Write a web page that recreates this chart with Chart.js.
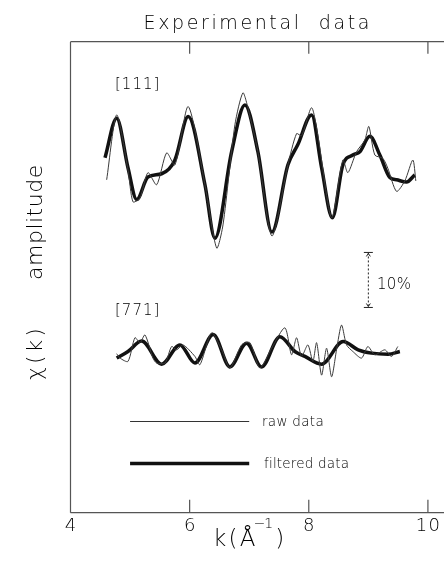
<!DOCTYPE html>
<html>
<head>
<meta charset="utf-8">
<script src="https://cdn.jsdelivr.net/npm/chart.js@4.4.0/dist/chart.umd.min.js"></script>
<style>
  html, body { margin: 0; padding: 0; background: #fff; overflow: hidden; }
</style>
</head>
<body>
<canvas id="exafsChart" width="444" height="578"></canvas>
<script>
// x = k (1/Angstrom), y = chi(k) amplitude in % (curves offset vertically)
const kTicks = [4, 6, 8, 10];
const tickLabels = ['4', '6', '8', '10'];

const filt111K = [4.579, 4.775, 4.965, 5.111, 5.300, 5.530, 5.753, 5.977, 6.257, 6.424, 6.705, 6.928, 7.146, 7.381,
                  7.649, 7.817, 8.047, 8.215, 8.396, 8.572, 8.740, 8.857, 9.025, 9.193, 9.361, 9.473, 9.641, 9.780];
const filt111V = [64.5, 71.7, 62.7, 56.9, 61.0, 61.6, 64.1, 72.0, 59.6, 49.9, 65.6, 74.1, 65.6, 51.0,
                  63.2, 66.9, 72.3, 62.7, 53.6, 63.2, 65.0, 65.6, 68.4, 65.0, 60.9, 60.5, 60.1, 61.4];

const raw111K = [4.607, 4.775, 4.965, 5.049, 5.166, 5.300, 5.446, 5.614, 5.753, 5.977, 6.257, 6.453, 6.560, 6.760,
                 6.894, 6.978, 7.146, 7.381, 7.649, 7.795, 7.880, 8.047, 8.154, 8.383, 8.572, 8.656, 8.802, 8.940,
                 9.008, 9.109, 9.243, 9.327, 9.473, 9.612, 9.747, 9.797];
const raw111V = [60.5, 72.3, 62.3, 56.5, 57.2, 61.8, 59.6, 65.4, 63.2, 73.8, 59.6, 48.1, 52.3, 70.5,
                 76.3, 73.6, 65.6, 50.3, 63.2, 68.9, 68.5, 73.6, 68.5, 53.6, 64.1, 61.8, 65.6, 67.7,
                 70.2, 65.0, 64.4, 62.6, 58.4, 60.3, 64.1, 60.3];

const filt771K = [4.775, 4.965, 5.195, 5.530, 5.837, 6.089, 6.396, 6.676, 6.956, 7.208, 7.515, 7.767, 7.935,
                  8.215, 8.577, 8.829, 9.054, 9.332, 9.529];
const filt771V = [28.1, 29.3, 31.2, 27.0, 30.5, 27.2, 32.4, 26.5, 30.8, 26.5, 32.0, 29.3, 28.4,
                  27.0, 31.1, 29.6, 29.0, 28.8, 29.3];

const raw771K = [4.775, 4.831, 4.965, 5.082, 5.166, 5.250, 5.384, 5.446, 5.586, 5.698, 5.782, 5.888, 6.089, 6.173,
                 6.369, 6.537, 6.676, 6.872, 7.012, 7.179, 7.376, 7.599, 7.711, 7.795, 7.879, 7.985, 8.069, 8.131,
                 8.215, 8.299, 8.383, 8.466, 8.550, 8.634, 8.740, 8.886, 8.992, 9.109, 9.277, 9.389, 9.495];
const raw771V = [28.9, 28.1, 27.5, 31.8, 30.9, 32.3, 28.1, 27.2, 27.2, 30.2, 29.6, 30.5, 28.4, 26.9,
                 32.7, 29.6, 26.3, 30.5, 30.9, 26.3, 29.9, 33.6, 28.7, 31.8, 28.4, 30.5, 27.5, 30.9,
                 25.0, 29.9, 24.7, 29.6, 34.1, 30.5, 29.3, 28.1, 30.2, 28.7, 29.6, 28.4, 30.2];

// 10% scale bar
const barK = 9.0;
const barLow = 37.3;
const barSpan = 10;

const toXY = (ks, vs) => ks.map((k, i) => ({ x: k, y: vs[i] }));

const FONT = '"DejaVu Sans", sans-serif';
const INK = '#000';

function put(ctx, str, x, y, size, spacing, center) {
  ctx.font = '200 ' + size + 'px ' + FONT;
  ctx.letterSpacing = spacing + 'px';
  ctx.textAlign = 'left';
  ctx.textBaseline = 'alphabetic';
  let w = ctx.measureText(str).width - spacing;
  ctx.fillText(str, center ? x - w / 2 : x, y);
  return w + spacing;
}

const decor = {
  id: 'decor',
  beforeDatasetsDraw(chart) {
    const { ctx, chartArea: a, scales: { x } } = chart;
    ctx.save();
    ctx.strokeStyle = '#555';
    ctx.lineWidth = 1.2;
    ctx.beginPath();
    ctx.moveTo(a.left, a.top); ctx.lineTo(a.right + 2, a.top);
    ctx.moveTo(a.left, a.top); ctx.lineTo(a.left, a.bottom);
    ctx.moveTo(a.left, a.bottom); ctx.lineTo(a.right + 2, a.bottom);
    kTicks.slice(1).forEach(k => {
      const px = x.getPixelForValue(k);
      ctx.moveTo(px, a.top); ctx.lineTo(px, a.top + 12);
      ctx.moveTo(px, a.bottom); ctx.lineTo(px, a.bottom - 13);
    });
    ctx.stroke();
    ctx.restore();
  },
  afterDatasetsDraw(chart) {
    const { ctx, scales: { x, y } } = chart;
    ctx.save();
    ctx.fillStyle = INK;

    // title
    put(ctx, 'Experimental  data', 256.5, 28.5, 19, 2.6, true);

    // tick labels
    kTicks.forEach((k, i) => put(ctx, tickLabels[i], x.getPixelForValue(k), 531, 18, 1.2, true));

    // x axis title k(A^-1)
    let cx = 213;
    cx += put(ctx, 'k(Å', cx, 546, 23, 2.2, false);
    cx += put(ctx, '−', cx - 4, 528, 14, 0, false) - 4;
    cx += put(ctx, '1', cx - 1, 528, 14, 0, false);
    put(ctx, ')', cx + 1, 546, 23, 0, false);

    // y axis title
    ctx.save();
    ctx.translate(41.5, 0);
    ctx.rotate(-Math.PI / 2);
    put(ctx, 'χ(k)', -380, 0, 22, 3, false);
    put(ctx, 'amplitude', -280, 0, 22, 0.5, false);
    ctx.restore();

    // curve labels
    put(ctx, '[111]', 115, 89, 15, 1, false);
    put(ctx, '[771]', 115, 315, 15, 1, false);

    // scale bar
    const bx = x.getPixelForValue(barK);
    const y0 = y.getPixelForValue(barLow), y1 = y.getPixelForValue(barLow + barSpan);
    ctx.strokeStyle = '#222';
    ctx.lineWidth = 1;
    ctx.setLineDash([2, 2]);
    ctx.beginPath(); ctx.moveTo(bx, y1); ctx.lineTo(bx, y0); ctx.stroke();
    ctx.setLineDash([]);
    ctx.beginPath();
    ctx.moveTo(bx - 4.5, y1); ctx.lineTo(bx + 4.5, y1);
    ctx.moveTo(bx - 4.5, y0); ctx.lineTo(bx + 4.5, y0);
    ctx.moveTo(bx - 2, y1 + 4); ctx.lineTo(bx, y1 + 1); ctx.lineTo(bx + 2, y1 + 4);
    ctx.moveTo(bx - 2, y0 - 4); ctx.lineTo(bx, y0 - 1); ctx.lineTo(bx + 2, y0 - 4);
    ctx.stroke();
    put(ctx, '10%', 377, 289, 15, 0.3, false);

    // legend
    const lx0 = x.getPixelForValue(5), lx1 = x.getPixelForValue(7);
    ctx.strokeStyle = '#333';
    ctx.lineWidth = 1;
    ctx.beginPath(); ctx.moveTo(lx0, 421.5); ctx.lineTo(lx1, 421.5); ctx.stroke();
    ctx.strokeStyle = '#111';
    ctx.lineWidth = 3.5;
    ctx.beginPath(); ctx.moveTo(lx0, 463.5); ctx.lineTo(lx1, 463.5); ctx.stroke();
    put(ctx, 'raw data', 262, 426, 13.5, 0.3, false);
    put(ctx, 'filtered data', 264, 468, 13.5, 0.2, false);

    ctx.restore();
  }
};

const rawStyle = { borderColor: '#3a3a3a', borderWidth: 1, tension: 0.25, pointRadius: 0, fill: false };
const filtStyle = { borderColor: '#111', borderWidth: 3.5, cubicInterpolationMode: 'monotone', pointRadius: 0, fill: false };

new Chart(document.getElementById('exafsChart').getContext('2d'), {
  type: 'line',
  data: {
    datasets: [
      Object.assign({ label: 'raw [111]', data: toXY(raw111K, raw111V) }, rawStyle),
      Object.assign({ label: 'raw [771]', data: toXY(raw771K, raw771V) }, rawStyle),
      Object.assign({ label: 'filtered [111]', data: toXY(filt111K, filt111V) }, filtStyle),
      Object.assign({ label: 'filtered [771]', data: toXY(filt771K, filt771V) }, filtStyle)
    ]
  },
  options: {
    responsive: false,
    animation: false,
    layout: { padding: { left: 70.5, right: 0, top: 41.7, bottom: 65.3 } },
    scales: {
      x: { type: 'linear', min: 4, max: 10.27, display: false },
      y: { min: 0, max: 85.6, display: false }
    },
    plugins: { legend: { display: false }, tooltip: { enabled: false } }
  },
  plugins: [decor]
});
</script>
</body>
</html>
